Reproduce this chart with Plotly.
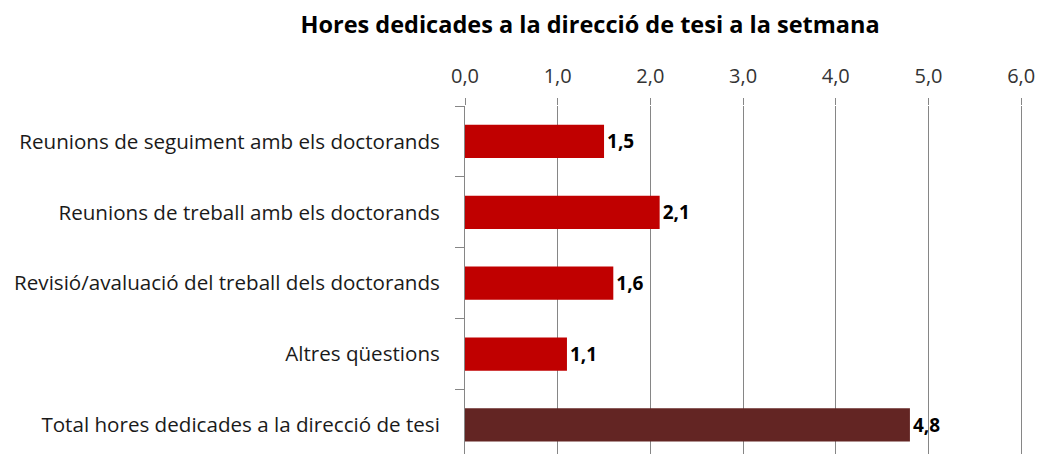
import plotly.graph_objects as go

categories = [
    "Reunions de seguiment amb els doctorands",
    "Reunions de treball amb els doctorands",
    "Revisió/avaluació del treball dels doctorands",
    "Altres qüestions",
    "Total hores dedicades a la direcció de tesi",
]
hours = [1.5, 2.1, 1.6, 1.1, 4.8]
bar_colors = ["#C00000", "#C00000", "#C00000", "#C00000", "#632523"]
tick_vals = [0, 1, 2, 3, 4, 5, 6]

labels = [f"{v:.1f}".replace(".", ",") for v in hours]

fig = go.Figure()
fig.add_trace(go.Bar(
    x=hours, y=categories, orientation="h",
    marker=dict(color=bar_colors, line=dict(width=0)),
    width=0.47,
    text=labels, textposition="outside", cliponaxis=False,
    textfont=dict(family="Open Sans", size=19, color="#000000", weight="bold"),
))

fig.update_layout(
    width=1037, height=454,
    margin=dict(l=465, r=14, t=106, b=0),
    plot_bgcolor="white", paper_bgcolor="white",
    separators=",.",
    showlegend=False,
    font=dict(family="Open Sans", size=20.6, color="#1a1a1a"),
    title=dict(text="<b>Hores dedicades a la direcció de tesi a la setmana</b>",
               x=0.569, xanchor="center", y=0.945, yanchor="middle",
               font=dict(family="Open Sans", size=23.5, color="#000000")),
)
# range runs a hair past 6 so the last gridline is drawn
fig.update_xaxes(
    side="top", range=[0, 6.02], tickvals=tick_vals, tickformat=".1f",
    showgrid=True, gridcolor="#868686", gridwidth=1,
    ticks="outside", ticklen=7, tickcolor="#868686",
    zeroline=False, showline=False, ticklabelstandoff=7,
    ticklabeloverflow="allow",
    tickfont=dict(size=20, color="#333333"),
)
fig.update_yaxes(
    type="category", range=[4.41, -0.5],
    showline=True, linecolor="#868686", linewidth=1,
    ticks="outside", ticklen=9, tickcolor="#868686", tickson="boundaries",
    showgrid=False, ticklabelstandoff=20,
    tickfont=dict(size=20.6, color="#1a1a1a"),
)

# drop the default page margin so the chart fills the window without scrollbars
fig.write_html(
    "out.html",
    config={"displayModeBar": False},
    post_script="document.body.style.margin='0';document.body.style.overflow='hidden';",
)
